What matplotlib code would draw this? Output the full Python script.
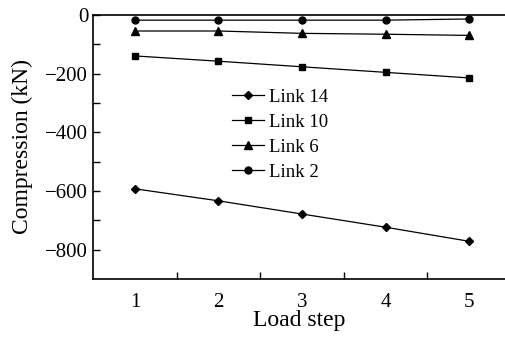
import matplotlib.pyplot as plt
from matplotlib.ticker import FixedLocator

# member forces per load step
load_steps = [1, 2, 3, 4, 5]
link14 = [-593, -634, -679, -724, -772]
link10 = [-140, -158, -177, -196, -215]
link6 = [-55, -55, -63, -66, -70]
link2 = [-18, -18, -18, -18, -14]

plt.rcParams['font.family'] = ['Liberation Serif', 'DejaVu Serif']

fig = plt.figure(figsize=(5.06, 3.38), dpi=100)
ax = fig.add_axes([0.184, 0.175, 0.816, 0.781])

style = dict(color='black', linewidth=0.9)
ax.plot(load_steps, link14, marker='D', markersize=4, label='Link 14', **style)
ax.plot(load_steps, link10, marker='s', markersize=5, label='Link 10', **style)
ax.plot(load_steps, link6, marker='^', markersize=5.5, label='Link 6', **style)
ax.plot(load_steps, link2, marker='o', markersize=5, label='Link 2', **style)

ax.set_xlim(0.5, 5.44)
ax.set_ylim(-900, 0)

ax.xaxis.set_major_locator(FixedLocator(load_steps))
ax.xaxis.set_minor_locator(FixedLocator([1.5, 2.5, 3.5, 4.5]))
ax.yaxis.set_major_locator(FixedLocator([-800, -600, -400, -200, 0]))
ax.yaxis.set_minor_locator(FixedLocator([-700, -500, -300, -100]))
ax.tick_params(axis='x', which='major', length=0, pad=10, labelsize=15)
ax.tick_params(axis='x', which='minor', direction='in', length=5, width=1)
ax.tick_params(axis='y', which='both', direction='in', length=5, width=1, labelsize=15)

ax.spines['right'].set_visible(False)
for s in ['left', 'bottom', 'top']:
    ax.spines[s].set_linewidth(1.2)

ax.set_xlabel('Load step', fontsize=17, labelpad=-1)
ax.set_ylabel('Compression (kN)', fontsize=17, labelpad=9)

ax.legend(loc='upper left', bbox_to_anchor=(0.313, 0.755), frameon=False,
          fontsize=13.5, handlelength=1.7, handletextpad=0.3, labelspacing=0.42,
          borderpad=0)

fig.savefig('out.png', dpi=100)
